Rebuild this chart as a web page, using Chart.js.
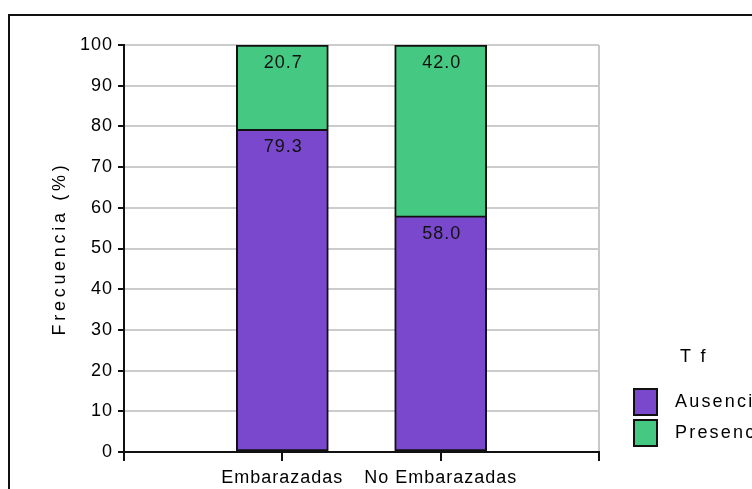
<!DOCTYPE html>
<html>
<head>
<meta charset="utf-8">
<script src="https://cdn.jsdelivr.net/npm/chart.js@4/dist/chart.umd.min.js"></script>
<style>
  html, body { margin: 0; padding: 0; background: #fff; overflow: hidden; width: 752px; height: 489px; }
  #frame { position: absolute; left: 8px; top: 14px; width: 900px; height: 600px; border: 2px solid #111; box-sizing: border-box; }
  #c { position: absolute; left: 0; top: 0; }
</style>
</head>
<body>
<div id="frame"></div>
<canvas id="c" width="900" height="489"></canvas>
<script>
// ---- data ----
const categories = ['Embarazadas', 'No Embarazadas'];
const seriesNames = ['Ausencia', 'Presencia'];
const ausencia = [79.3, 58.0];
const presencia = [20.7, 42.0];
const yTicks = [0, 10, 20, 30, 40, 50, 60, 70, 80, 90, 100];
const legendTitle = 'T f';
const yTitle = 'Frecuencia (%)';

// ---- build padded category axis (empty slot at each end) ----
const labels = [''].concat(categories, ['']);
const pad = arr => [null].concat(arr, [null]);

const FONT = '"Liberation Sans", Arial, sans-serif';
const FS = 18;
const SP = '1px';
Chart.defaults.font.family = FONT;
Chart.defaults.font.size = FS;
Chart.defaults.color = '#000';

const spacingPlugin = {
  id: 'spacing',
  beforeDraw(chart) {
    const y = chart.scales.y;
    if (y && !y._patched) {
      const orig = y.drawTitle;
      y.drawTitle = function () {
        const c = this.ctx; const prev = c.letterSpacing;
        c.letterSpacing = '3.7px'; orig.call(this); c.letterSpacing = prev;
      };
      y._patched = true;
    }
    chart.ctx.letterSpacing = SP;
  },
  afterDraw(chart) { chart.ctx.letterSpacing = '0px'; }
};

const valueLabels = {
  id: 'valueLabels',
  afterDatasetsDraw(chart) {
    const ctx = chart.ctx;
    ctx.save();
    ctx.letterSpacing = SP;
    ctx.font = FS + 'px ' + FONT;
    ctx.fillStyle = '#111';
    ctx.textAlign = 'center';
    ctx.textBaseline = 'middle';
    chart.data.datasets.forEach((ds, di) => {
      chart.getDatasetMeta(di).data.forEach((bar, i) => {
        const v = ds.data[i];
        if (v === null || v === undefined) return;
        ctx.fillText(v.toFixed(1), bar.x + 1, bar.y + 18);
      });
    });
    ctx.restore();
  }
};

const customLegend = {
  id: 'customLegend',
  afterDraw(chart) {
    const ctx = chart.ctx;
    const a = chart.chartArea;
    const bx = a.right + 35;
    ctx.save();
    ctx.letterSpacing = '2.2px';
    ctx.font = '18px ' + FONT;
    ctx.fillStyle = '#000';
    ctx.textAlign = 'left';
    ctx.textBaseline = 'middle';
    ctx.fillText(legendTitle, bx + 46, 357);
    chart.data.datasets.forEach((ds, i) => {
      const y = 389 + i * 31;
      ctx.fillStyle = ds.backgroundColor;
      ctx.fillRect(bx, y, 23, 26);
      ctx.lineWidth = 2;
      ctx.strokeStyle = '#111';
      ctx.strokeRect(bx, y, 23, 26);
      ctx.fillStyle = '#000';
      ctx.fillText(ds.label, bx + 41, y + 13);
    });
    ctx.restore();
  }
};

new Chart(document.getElementById('c'), {
  type: 'bar',
  data: {
    labels: labels,
    datasets: [
      { label: seriesNames[0], data: pad(ausencia), backgroundColor: '#7A48CC', borderColor: '#111', borderWidth: 2, borderSkipped: false, barThickness: 92 },
      { label: seriesNames[1], data: pad(presencia), backgroundColor: '#45C882', borderColor: '#111', borderWidth: 2, borderSkipped: 'bottom', barThickness: 92 }
    ]
  },
  options: {
    responsive: false,
    animation: false,
    devicePixelRatio: 1,
    layout: { padding: { left: 0, top: 45, right: 301, bottom: 0 } },
    plugins: { legend: { display: false }, tooltip: { enabled: false }, title: { display: false } },
    scales: {
      x: {
        stacked: true,
        offset: false,
        afterFit(s) { s.height = 37; },
        grid: {
          offset: false,
          color: c => (c.index === labels.length - 1 ? '#c8c8c8' : 'rgba(0,0,0,0)'),
          lineWidth: 2,
          tickColor: '#111',
          tickLength: 9,
          drawTicks: true
        },
        border: { display: true, color: '#111', width: 2 },
        ticks: { padding: 6, autoSkip: false, maxRotation: 0, color: '#000', font: { size: FS } }
      },
      y: {
        stacked: true,
        min: 0,
        max: 100,
        afterFit(s) { s.width = 124; },
        afterBuildTicks(s) { s.ticks = yTicks.map(v => ({ value: v })); },
        grid: { color: '#cccccc', lineWidth: 2, tickColor: '#111', tickLength: 6 },
        border: { display: true, color: '#111', width: 2 },
        ticks: { padding: 5, color: '#000', font: { size: FS } },
        title: { display: true, text: yTitle, color: '#000', font: { size: 18 }, padding: { top: 49, bottom: 0 } }
      }
    }
  },
  plugins: [spacingPlugin, valueLabels, customLegend]
});
</script>
</body>
</html>
